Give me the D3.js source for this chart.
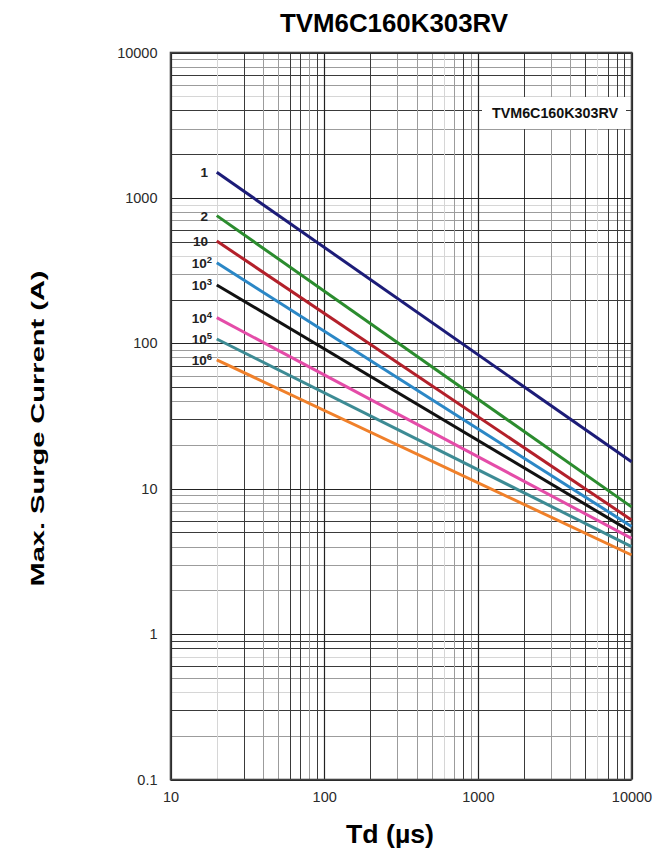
<!DOCTYPE html>
<html><head><meta charset="utf-8">
<script src="https://cdn.jsdelivr.net/npm/d3@7/dist/d3.min.js"></script>
<style>body{margin:0;background:#fff}svg{display:block}</style>
</head><body><svg id="c" width="664" height="853"></svg>
<script>
// ---------------- data ----------------
const chartTitle = "TVM6C160K303RV";
const legendLabel = "TVM6C160K303RV";
const xAxisTitle = "Td (µs)";
const yAxisTitle = "Max. Surge Current (A)";
const xTickValues = [10, 100, 1000, 10000];
const yTickValues = [0.1, 1, 10, 100, 1000, 10000];
const seriesNames = ["1", "2", "10", "10^2", "10^3", "10^4", "10^5", "10^6"];
const tdUs = [20, 10000];
const surge1 = [1500, 15.3];
const surge2 = [755, 7.5];
const surge10 = [505, 6.1];
const surge1e2 = [358, 5.5];
const surge1e3 = [252, 5.05];
const surge1e4 = [150, 4.55];
const surge1e5 = [107, 4.0];
const surge1e6 = [77, 3.5];

// ---------------- styles ----------------
const seriesColors = ["#1c1c78", "#2b8c2e", "#b3202a", "#2b87c6", "#111111", "#e44ca8", "#3d8b94", "#f0802a"];
const gridColor = {D: "#3a3a3a", M: "#9c9c9c", L: "#d6d6d6"};
const xMinorStyle = [
  ['L','D','M','M','D','D','M','D'],
  ['D','M','M','M','L','M','D','M'],
  ['D','M','M','D','L','D','D','D']
];
const yMinorStyle = [
  ['M','D','L','M','D','L','D','D'],
  ['M','M','M','D','D','M','M','M'],
  ['M','D','M','D','M','D','M','M'],
  ['D','M','L','D','D','M','M','L'],
  ['D','M','D','L','M','D','M','M']
];

const svg = d3.select("#c");
const font = "'Liberation Sans', Arial, sans-serif";
const L = 170.5, R = 631.5, T = 52.5, B = 779.5;
const x = d3.scaleLog().domain([10, 10000]).range([L, R]);
const y = d3.scaleLog().domain([0.1, 10000]).range([B, T]);

const allSurge = [surge1, surge2, surge10, surge1e2, surge1e3, surge1e4, surge1e5, surge1e6];
const series = seriesNames.map((n, i) => ({
  name: n, color: seriesColors[i],
  points: tdUs.map((t, j) => ({t, v: allSurge[i][j]}))
}));

// ---------------- grid ----------------
const xMinor = [];
xTickValues.slice(0, -1).forEach((d, di) => {
  for (let m = 2; m <= 9; m++) xMinor.push({v: d * m, s: xMinorStyle[di][m - 2]});
});
const yMinor = [];
yTickValues.slice(0, -1).forEach((d, di) => {
  for (let m = 2; m <= 9; m++) yMinor.push({v: d * m, s: yMinorStyle[di][m - 2]});
});
const order = {L: 0, M: 1, D: 2};
xMinor.sort((a, b) => order[a.s] - order[b.s]);
yMinor.sort((a, b) => order[a.s] - order[b.s]);

const grid = svg.append("g");
grid.selectAll("line.ym").data(yMinor).join("line")
  .attr("x1", L).attr("x2", R)
  .attr("y1", d => Math.round(y(d.v)) + 0.5).attr("y2", d => Math.round(y(d.v)) + 0.5)
  .attr("stroke", d => gridColor[d.s]).attr("stroke-width", 1);
grid.selectAll("line.xm").data(xMinor).join("line")
  .attr("y1", T).attr("y2", B)
  .attr("x1", d => Math.round(x(d.v)) + 0.5).attr("x2", d => Math.round(x(d.v)) + 0.5)
  .attr("stroke", d => gridColor[d.s]).attr("stroke-width", 1);
grid.selectAll("line.yM").data(yTickValues).join("line")
  .attr("x1", L).attr("x2", R)
  .attr("y1", d => Math.round(y(d)) + 0.5).attr("y2", d => Math.round(y(d)) + 0.5)
  .attr("stroke", "#222").attr("stroke-width", 1.2);
grid.selectAll("line.xM").data(xTickValues).join("line")
  .attr("y1", T).attr("y2", B)
  .attr("x1", d => Math.round(x(d)) + 0.5).attr("x2", d => Math.round(x(d)) + 0.5)
  .attr("stroke", "#222").attr("stroke-width", 1.2);

// legend box (covers grid)
svg.append("rect").attr("x", 482).attr("y", 97).attr("width", 144).attr("height", 32).attr("fill", "#fff");
svg.append("text").attr("x", 555).attr("y", 118).attr("text-anchor", "middle")
  .attr("font-family", font).attr("font-weight", "bold").attr("font-size", 14)
  .attr("textLength", 126).attr("lengthAdjust", "spacingAndGlyphs")
  .attr("fill", "#111").text(legendLabel);

// frame
svg.append("rect").attr("x", L).attr("y", T).attr("width", R - L).attr("height", B - T)
  .attr("fill", "none").attr("stroke", "#444").attr("stroke-width", 1.6);

// ---------------- series ----------------
const line = d3.line().x(d => x(d.t)).y(d => y(d.v));
svg.append("g").selectAll("path").data(series).join("path")
  .attr("d", d => line(d.points)).attr("fill", "none")
  .attr("stroke", d => d.color).attr("stroke-width", 3);

// series labels
const lab = svg.append("g").attr("font-family", font).attr("font-weight", "bold").attr("fill", "#222");
series.forEach(s => {
  const parts = s.name.split("^");
  const t = lab.append("text")
    .attr("x", parts.length > 1 ? 212 : 208)
    .attr("y", y(s.points[0].v) + 5)
    .attr("text-anchor", "end").attr("font-size", 13.5);
  t.append("tspan").text(parts[0]);
  if (parts.length > 1) t.append("tspan").attr("font-size", 9.5).attr("dy", -5).text(parts[1]);
});

// ---------------- axes ----------------
const fmt = d => (d < 1 ? String(d) : d3.format("d")(d));
const ax = svg.append("g").attr("transform", `translate(0,${B})`)
  .call(d3.axisBottom(x).tickValues(xTickValues).tickFormat(fmt).tickSize(0).tickPadding(12));
const ay = svg.append("g").attr("transform", `translate(${L},0)`)
  .call(d3.axisLeft(y).tickValues(yTickValues).tickFormat(fmt).tickSize(0).tickPadding(13));
[ax, ay].forEach(g => {
  g.select(".domain").remove();
  g.selectAll("text").attr("font-family", font).attr("font-size", 14.5).attr("fill", "#2a2a2a");
});

// titles
svg.append("text").attr("x", 394).attr("y", 31.5).attr("text-anchor", "middle")
  .attr("font-family", font).attr("font-weight", "bold").attr("font-size", 26)
  .attr("textLength", 228).attr("lengthAdjust", "spacingAndGlyphs").attr("fill", "#000").text(chartTitle);
svg.append("text").attr("x", 390).attr("y", 843).attr("text-anchor", "middle")
  .attr("font-family", font).attr("font-weight", "bold").attr("font-size", 26)
  .attr("textLength", 88).attr("lengthAdjust", "spacingAndGlyphs").attr("fill", "#000").text(xAxisTitle);
svg.append("text").attr("transform", "translate(43.5,428.5) rotate(-90)").attr("text-anchor", "middle")
  .attr("font-family", font).attr("font-weight", "bold").attr("font-size", 18.5)
  .attr("textLength", 316).attr("lengthAdjust", "spacingAndGlyphs").attr("fill", "#000").text(yAxisTitle);
</script></body></html>
